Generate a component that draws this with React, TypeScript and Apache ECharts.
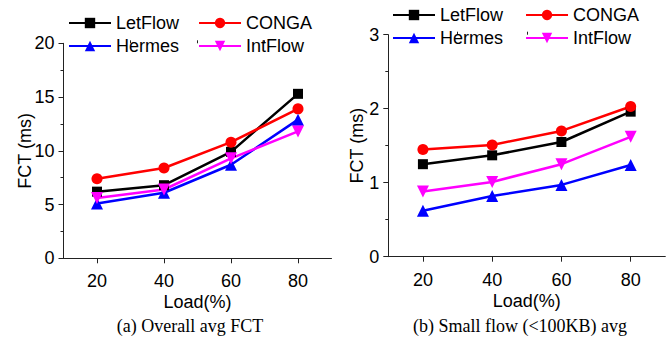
import React, { useEffect, useRef } from "react";
import * as echarts from "echarts";

const loads = [20, 40, 60, 80];
const seriesNames = ["LetFlow", "CONGA", "Hermes", "IntFlow"];
const overallLetFlow = [6.2, 6.8, 9.9, 15.3];
const overallConga = [7.4, 8.4, 10.8, 13.9];
const overallHermes = [5.1, 6.1, 8.7, 12.9];
const overallIntFlow = [5.6, 6.4, 9.3, 11.8];
const smallLetFlow = [1.25, 1.37, 1.55, 1.96];
const smallConga = [1.45, 1.51, 1.7, 2.03];
const smallHermes = [0.62, 0.82, 0.97, 1.24];
const smallIntFlow = [0.88, 1.01, 1.25, 1.62];
const majorXTicks = [20, 40, 60, 80];
const minorXTicks = [30, 50, 70];
const captionA = "(a) Overall avg FCT";
const captionB = "(b) Small flow (<100KB) avg";

const SANS = "'Liberation Sans', Arial, sans-serif";
const SERIF = "'Liberation Serif', 'Times New Roman', serif";
const AXIS_COLOR = "#222";

const styles: Record<string, any> = {
  LetFlow: { color: "#000000", symbol: "rect", symbolSize: 10, symbolRotate: 0 },
  CONGA: { color: "#ff0000", symbol: "circle", symbolSize: 11, symbolRotate: 0 },
  Hermes: { color: "#0000ff", symbol: "triangle", symbolSize: 12, symbolRotate: 0 },
  IntFlow: { color: "#ff00ff", symbol: "triangle", symbolSize: 12, symbolRotate: 180 },
};

function pair(vals: number[]) {
  return loads.map((x, i) => [x, vals[i]]);
}

function mkSeries(name: string, vals: number[], gridIdx: number) {
  const s = styles[name];
  return {
    type: "line",
    name,
    xAxisIndex: gridIdx * 2,
    yAxisIndex: gridIdx,
    data: pair(vals),
    symbol: s.symbol,
    symbolSize: s.symbolSize,
    symbolRotate: s.symbolRotate,
    itemStyle: { color: s.color },
    lineStyle: { color: s.color, width: 2.5 },
    z: 3,
  };
}

function xAxes(gridIndex: number) {
  return [
    {
      type: "value",
      gridIndex,
      min: 10,
      max: 90,
      interval: 10,
      name: "Load(%)",
      nameLocation: "middle",
      nameGap: 35,
      nameMoveOverlap: false,
      nameTextStyle: { fontFamily: SANS, fontSize: 18, color: "#000" },
      axisLine: { show: true, lineStyle: { color: AXIS_COLOR, width: 1 } },
      axisTick: { show: true, customValues: majorXTicks, length: 5, lineStyle: { color: AXIS_COLOR } },
      axisLabel: { customValues: majorXTicks, margin: 14, fontFamily: SANS, fontSize: 18, color: "#000" },
      splitLine: { show: false },
    },
    {
      type: "value",
      gridIndex,
      min: 10,
      max: 90,
      interval: 10,
      axisLine: { show: false },
      axisTick: { show: true, customValues: minorXTicks, length: 3, lineStyle: { color: AXIS_COLOR } },
      axisLabel: { show: false },
      splitLine: { show: false },
    },
  ];
}

function yAxis(gridIndex: number, max: number, interval: number, nameGap: number) {
  return {
    type: "value",
    gridIndex,
    min: 0,
    max,
    interval,
    name: "FCT (ms)",
    nameLocation: "middle",
    nameGap,
    nameMoveOverlap: false,
    nameTextStyle: { fontFamily: SANS, fontSize: 18, color: "#000" },
    axisLine: { show: true, lineStyle: { color: AXIS_COLOR, width: 1 } },
    axisTick: { show: true, length: 5, lineStyle: { color: AXIS_COLOR } },
    minorTick: { show: true, splitNumber: 2, length: 3, lineStyle: { color: AXIS_COLOR } },
    axisLabel: { margin: 9, fontFamily: SANS, fontSize: 18, color: "#000" },
    splitLine: { show: false },
  };
}

function legendRow(names: string[], left: number, top: number, textWidth: number, gap: number) {
  return {
    data: names,
    left,
    top,
    orient: "horizontal",
    padding: 0,
    itemWidth: 42,
    itemHeight: 13,
    itemGap: gap,
    selectedMode: false,
    textStyle: { fontFamily: SANS, fontSize: 18, color: "#000", width: textWidth, padding: [0, 0, 0, 0] },
  };
}

export default function App() {
  const ref = useRef<HTMLDivElement>(null);
  useEffect(() => {
    if (!ref.current) return;
    const chart = echarts.init(ref.current, null, { renderer: "svg" });
    chart.setOption({
      animation: false,
      backgroundColor: "#fff",
      grid: [
        { left: 63.5, top: 43.3, width: 268, height: 215 },
        { left: 388.3, top: 34.7, width: 277, height: 222 },
      ],
      xAxis: [...xAxes(0), ...xAxes(1)],
      yAxis: [yAxis(0, 20, 5, 30), yAxis(1, 3, 1, 22)],
      legend: [
        legendRow([seriesNames[0], seriesNames[1]], 68, 14, 64, 19),
        legendRow([seriesNames[2], seriesNames[3]], 68, 37, 64, 19),
        legendRow([seriesNames[0], seriesNames[1]], 392, 6, 66, 22),
        legendRow([seriesNames[2], seriesNames[3]], 392, 29, 66, 22),
      ],
      series: [
        mkSeries("LetFlow", overallLetFlow, 0),
        mkSeries("CONGA", overallConga, 0),
        mkSeries("Hermes", overallHermes, 0),
        mkSeries("IntFlow", overallIntFlow, 0),
        mkSeries("LetFlow", smallLetFlow, 1),
        mkSeries("CONGA", smallConga, 1),
        mkSeries("Hermes", smallHermes, 1),
        mkSeries("IntFlow", smallIntFlow, 1),
      ],
      graphic: [
        {
          type: "text",
          x: 190,
          y: 326,
          style: { text: captionA, fontFamily: SERIF, fontSize: 18, fill: "#000", align: "center", verticalAlign: "middle" },
        },
        {
          type: "text",
          x: 520,
          y: 326,
          style: { text: captionB, fontFamily: SERIF, fontSize: 18, fill: "#000", align: "center", verticalAlign: "middle" },
        },
      ],
    });
    return () => chart.dispose();
  }, []);
  return (
    <div
      ref={ref}
      style={{ position: "absolute", left: 0, top: 0, width: 670, height: 341 }}
    />
  );
}
